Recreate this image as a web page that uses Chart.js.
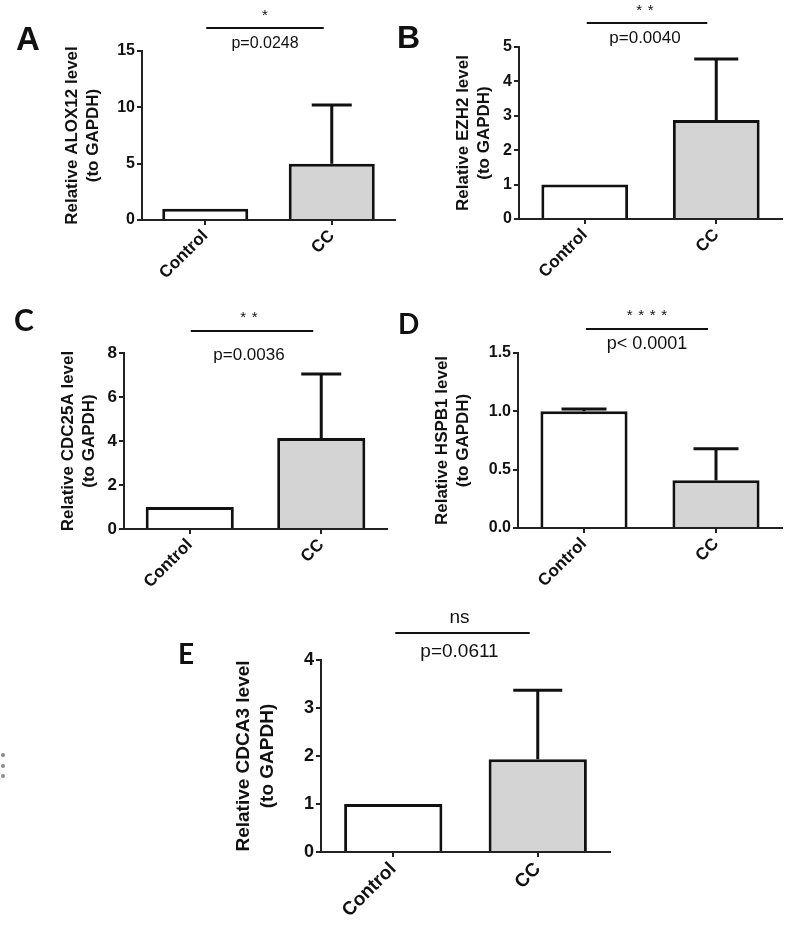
<!DOCTYPE html>
<html><head><meta charset="utf-8">
<script src="https://cdn.jsdelivr.net/npm/chart.js@4/dist/chart.umd.min.js"></script>
<style>
html,body{margin:0;padding:0;background:#fff;}
#wrap{position:relative;width:785px;height:925px;overflow:hidden;background:#fff;}
canvas{position:absolute;}
.lt{position:absolute;color:#111;font-weight:bold;line-height:1;}
.dot{position:absolute;left:1px;width:4px;height:4px;border-radius:2px;background:#8a8a8a;}
</style></head><body>
<div id="wrap">
  <canvas id="cA" width="400" height="300" style="left:0;top:0"></canvas>
  <canvas id="cB" width="385" height="300" style="left:400px;top:0"></canvas>
  <canvas id="cC" width="400" height="300" style="left:0;top:300px"></canvas>
  <canvas id="cD" width="385" height="300" style="left:400px;top:300px"></canvas>
  <canvas id="cE" width="485" height="325" style="left:150px;top:600px"></canvas>
  <div class="lt" style="left:16px;top:22px;font-family:'Liberation Sans',Arial;font-size:33px">A</div>
  <div class="lt" style="left:397px;top:21px;font-family:'Liberation Sans',Arial;font-size:32px">B</div>
  <div class="lt" style="left:14px;top:304px;font-family:Lato,'Open Sans';font-size:30px">C</div>
  <div class="lt" style="left:398px;top:309px;font-family:Lato,'Open Sans';font-size:28px">D</div>
  <div class="lt" style="left:178px;top:639px;font-family:Lato,'Open Sans';font-size:28px">E</div>
  <div class="dot" style="top:753px"></div>
  <div class="dot" style="top:764px"></div>
  <div class="dot" style="top:774px"></div>
</div>
<script>
// ---- data ----
const categories = ['Control', 'CC'];

const aloxMean = [1.0, 5.0];
const aloxSem = [0.0, 5.2];
const aloxTicks = [0, 5, 10, 15];
const aloxTickLabels = ['0', '5', '10', '15'];

const ezh2Mean = [1.0, 2.88];
const ezh2Sem = [0.0, 1.77];
const ezh2Ticks = [0, 1, 2, 3, 4, 5];
const ezh2TickLabels = ['0', '1', '2', '3', '4', '5'];

const cdc25aMean = [1.0, 4.14];
const cdc25aSem = [0.0, 2.9];
const cdc25aTicks = [0, 2, 4, 6, 8];
const cdc25aTickLabels = ['0', '2', '4', '6', '8'];

const hspb1Mean = [1.0, 0.41];
const hspb1Sem = [0.02, 0.27];
const hspb1Ticks = [0, 0.5, 1.0, 1.5];
const hspb1TickLabels = ['0.0', '0.5', '1.0', '1.5'];

const cdca3Mean = [1.0, 1.93];
const cdca3Sem = [0.0, 1.44];
const cdca3Ticks = [0, 1, 2, 3, 4];
const cdca3TickLabels = ['0', '1', '2', '3', '4'];

const titlesY = {
  A: ['Relative ALOX12 level', '(to GAPDH)'],
  B: ['Relative EZH2 level', '(to GAPDH)'],
  C: ['Relative CDC25A level', '(to GAPDH)'],
  D: ['Relative HSPB1 level', '(to GAPDH)'],
  E: ['Relative CDCA3 level', '(to GAPDH)']
};
const stars = { A: 1, B: 2, C: 2, D: 4, E: 0 };
const sigText = { E: 'ns' };
const pTexts = { A: 'p=0.0248', B: 'p=0.0040', C: 'p=0.0036', D: 'p< 0.0001', E: 'p=0.0611' };

// ---- plugins ----
const INK = '#111';
const FONT = "'Liberation Sans', Arial, sans-serif";

const errPlugin = {
  id: 'errBars',
  afterDatasetsDraw(chart, args, opts) {
    const meta = chart.getDatasetMeta(0);
    const ys = chart.scales.y;
    const ctx = chart.ctx;
    const data = chart.data.datasets[0].data;
    ctx.save();
    ctx.strokeStyle = INK;
    ctx.lineWidth = 3;
    meta.data.forEach((bar, i) => {
      const e = opts.sem[i];
      if (!e) return;
      const yTop = ys.getPixelForValue(data[i] + e);
      const yBase = ys.getPixelForValue(data[i]);
      ctx.beginPath();
      ctx.moveTo(bar.x, yBase);
      ctx.lineTo(bar.x, yTop);
      ctx.moveTo(bar.x - opts.cap / 2, yTop);
      ctx.lineTo(bar.x + opts.cap / 2, yTop);
      ctx.stroke();
    });
    ctx.restore();
  }
};

const sigPlugin = {
  id: 'sig',
  afterDraw(chart, args, o) {
    const ctx = chart.ctx;
    const top = chart.chartArea.top;
    const meta = chart.getDatasetMeta(0);
    const x1 = meta.data[0].x + o.dx1;
    const x2 = meta.data[1].x - o.dx2;
    const cx = (x1 + x2) / 2;
    ctx.save();
    ctx.strokeStyle = INK;
    ctx.fillStyle = INK;
    ctx.lineWidth = 2;
    ctx.beginPath();
    ctx.moveTo(x1, top - o.dLine);
    ctx.lineTo(x2, top - o.dLine);
    ctx.stroke();
    ctx.textAlign = 'center';
    ctx.textBaseline = 'middle';
    ctx.font = o.pSize + 'px ' + FONT;
    ctx.fillText(o.p, cx + o.pdx, top - o.dP);
    if (o.text) {
      ctx.fillText(o.text, cx + o.pdx, top - o.dStar);
    } else {
      ctx.font = '15px ' + FONT;
      ctx.textBaseline = 'alphabetic';
      const n = o.stars, pitch = 11.5;
      for (let k = 0; k < n; k++) {
        const sx = cx + o.pdx + (k - (n - 1) / 2) * pitch;
        ctx.fillText('*', sx, top - o.dStar + 10);
      }
    }
    ctx.restore();
  }
};

function makePanel(id, c) {
  const canvas = document.getElementById(id);
  const W = canvas.width, H = canvas.height;
  new Chart(canvas, {
    type: 'bar',
    data: {
      labels: categories,
      datasets: [{
        data: c.mean,
        backgroundColor: ['#ffffff', '#d4d4d4'],
        borderColor: INK,
        borderWidth: 3,
        borderSkipped: 'start',
        barPercentage: c.barPct,
        categoryPercentage: 1
      }]
    },
    options: {
      responsive: false,
      animation: false,
      events: [],
      layout: { padding: { left: 0, top: c.top, right: W - c.right, bottom: 0 } },
      plugins: {
        legend: { display: false },
        tooltip: { enabled: false },
        errBars: { sem: c.sem, cap: c.cap },
        sig: c.sig
      },
      scales: {
        x: {
          offset: true,
          grid: { offset: false, drawOnChartArea: false, drawTicks: true, tickLength: 5, color: '#222', lineWidth: 2 },
          border: { display: true, color: '#222', width: 2 },
          ticks: {
            color: INK, autoSkip: false, maxRotation: 45, minRotation: 45, padding: 1,
            font: { family: FONT, weight: 'bold', size: c.xFont }
          },
          afterFit(s) { s.height = H - c.bottom; }
        },
        y: {
          min: 0,
          max: c.ticks[c.ticks.length - 1],
          afterBuildTicks(s) { s.ticks = c.ticks.map(v => ({ value: v })); },
          grid: { drawOnChartArea: false, drawTicks: true, tickLength: 5, color: '#222', lineWidth: 2 },
          border: { display: true, color: '#222', width: 2 },
          ticks: {
            color: INK, padding: 2,
            font: { family: FONT, weight: 'bold', size: c.yFont },
            callback: (v, i) => c.tickLabels[i]
          },
          title: {
            display: true, text: c.title, color: INK,
            font: { family: FONT, weight: 'bold', size: c.tFont, lineHeight: c.tLH },
            padding: { top: c.tPad, bottom: 0 }
          },
          afterFit(s) { s.width = c.left; }
        }
      }
    },
    plugins: [errPlugin, sigPlugin]
  });
}

makePanel('cA', {
  mean: aloxMean, sem: aloxSem, ticks: aloxTicks, tickLabels: aloxTickLabels, title: titlesY.A,
  left: 142, top: 51, right: 395, bottom: 220, barPct: 0.68, cap: 40,
  xFont: 17, yFont: 16, tFont: 17, tLH: 1.25, tPad: 61.5,
  sig: { dx1: 1, dx2: 8, dLine: 23, dP: 7, dStar: 41, pSize: 16, pdx: 0, p: pTexts.A, stars: stars.A }
});
makePanel('cB', {
  mean: ezh2Mean, sem: ezh2Sem, ticks: ezh2Ticks, tickLabels: ezh2TickLabels, title: titlesY.B,
  left: 119, top: 47, right: 382, bottom: 219, barPct: 0.66, cap: 44,
  xFont: 17, yFont: 16, tFont: 17, tLH: 1.25, tPad: 52.5,
  sig: { dx1: 2, dx2: 9, dLine: 24, dP: 9, dStar: 42, pSize: 17, pdx: -2, p: pTexts.B, stars: stars.B }
});
makePanel('cC', {
  mean: cdc25aMean, sem: cdc25aSem, ticks: cdc25aTicks, tickLabels: cdc25aTickLabels, title: titlesY.C,
  left: 124, top: 53, right: 387, bottom: 229, barPct: 0.67, cap: 40,
  xFont: 17, yFont: 17, tFont: 17, tLH: 1.25, tPad: 57.5,
  sig: { dx1: 1, dx2: 8, dLine: 22, dP: -2, dStar: 41, pSize: 17, pdx: -3, p: pTexts.C, stars: stars.C }
});
makePanel('cD', {
  mean: hspb1Mean, sem: hspb1Sem, ticks: hspb1Ticks, tickLabels: hspb1TickLabels, title: titlesY.D,
  left: 118, top: 53, right: 382, bottom: 228, barPct: 0.66, cap: 45,
  xFont: 17, yFont: 16, tFont: 17, tLH: 1.25, tPad: 31.5,
  sig: { dx1: 2, dx2: 8, dLine: 24, dP: 9, dStar: 43, pSize: 18, pdx: 0, p: pTexts.D, stars: stars.D }
});
makePanel('cE', {
  mean: cdca3Mean, sem: cdca3Sem, ticks: cdca3Ticks, tickLabels: cdca3TickLabels, title: titlesY.E,
  left: 171, top: 60, right: 460, bottom: 252, barPct: 0.68, cap: 49,
  xFont: 19, yFont: 18, tFont: 19, tLH: 1.25, tPad: 82,
  sig: { dx1: 2, dx2: 8, dLine: 27, dP: 8, dStar: 42, pSize: 19, pdx: -3, p: pTexts.E, text: sigText.E, stars: stars.E }
});
</script>
</body></html>
